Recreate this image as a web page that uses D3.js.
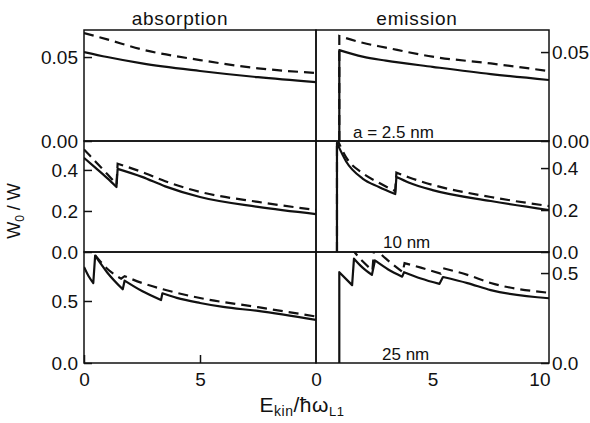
<!DOCTYPE html>
<html>
<head>
<meta charset="utf-8">
<script src="https://cdn.jsdelivr.net/npm/d3@7"></script>
<style>
  body { margin: 0; background: #fff; }
  svg { display: block; }
  text { font-family: "Liberation Sans", Arial, sans-serif; fill: #111; }
</style>
</head>
<body>
<svg width="590" height="423"></svg>
<script>
// values: [E_kin / hbar omega_L1, W0/W]
let absSmallSolid  = [[0,0.053],[1,0.050],[2.5,0.0462],[5,0.0417],[7.5,0.038],[10,0.0351]];
let absSmallDashed = [[0,0.0643],[1,0.0605],[2.5,0.0545],[5,0.0482],[7.5,0.0433],[10,0.0405]];
let emiSmallSolid  = [[1,0],[1,0.0511],[2,0.0474],[3,0.0452],[5,0.0417],[7.5,0.0376],[10,0.0343]];
let emiSmallDashed = [[1,0],[1,0.059],[2,0.0552],[3,0.0525],[5,0.0474],[7.5,0.0436],[10,0.0393]];

let absMidSolid  = [[0,0.459],[0.5,0.41],[1.0,0.36],[1.4,0.317],[1.45,0.405],[2.5,0.366],[3.5,0.32],[5,0.268],[7.5,0.22],[10,0.185]];
let absMidDashed = [[0,0.50],[0.5,0.44],[1.0,0.38],[1.4,0.33],[1.45,0.43],[2.5,0.39],[3.5,0.345],[5,0.293],[7.5,0.244],[10,0.205]];
let emiMidSolid  = [[0.9,0],[0.9,0.52],[1.3,0.43],[2,0.35],[2.7,0.31],[3.4,0.276],[3.45,0.357],[4,0.33],[5,0.295],[7.5,0.243],[10,0.2]];
let emiMidDashed = [[0.9,0],[0.9,0.54],[1.3,0.45],[2,0.376],[2.7,0.33],[3.4,0.29],[3.45,0.378],[4,0.355],[5,0.32],[7.5,0.262],[10,0.219]];

let absBigSolid  = [[0,0.775],[0.2,0.70],[0.4,0.645],[0.48,0.865],[1.0,0.73],[1.67,0.594],[1.75,0.664],[2.5,0.58],[3.32,0.508],[3.38,0.562],[4,0.525],[5,0.484],[6,0.452],[7.5,0.42],[10,0.347]];
let absBigDashed = [[0.48,0.87],[1.0,0.76],[1.6,0.68],[1.75,0.70],[2.5,0.645],[3.4,0.595],[5,0.524],[7.5,0.45],[10,0.375]];
let emiBigSolid  = [[1,0],[1,0.505],[1.55,0.433],[1.63,0.58],[2.0,0.53],[2.4,0.49],[2.53,0.57],[3.1,0.52],[3.7,0.48],[3.78,0.505],[4.5,0.47],[5.3,0.44],[5.45,0.478],[6.5,0.444],[7.5,0.405],[10,0.36]];
let emiBigDashed = [[1.5,0.64],[2.0,0.565],[2.42,0.515],[2.5,0.64],[3.0,0.58],[3.72,0.505],[3.8,0.555],[4.5,0.53],[5.35,0.497],[5.45,0.527],[6.5,0.49],[7.5,0.445],[10,0.39]];

let absTicksE = [0, 5];
let emiTicksE = [0, 5, 10];
let smallTicks = [0, 0.05];
let midTicks = [0, 0.2, 0.4];
let bigTicks = [0, 0.5];

let titles = ["absorption", "emission"];
let sizeLabels = ["a = 2.5 nm", "10 nm", "25 nm"];

let svg = d3.select("svg");

let colX = [[84, 316], [316, 549]];
let rowY = [[30, 141], [141, 252], [252, 363]];

let panels = [
    {col: 0, row: 0, top: 0.0661, ticks: smallTicks, fmt: ".2f", solid: absSmallSolid, dashed: absSmallDashed},
    {col: 1, row: 0, top: 0.0624, ticks: smallTicks, fmt: ".2f", solid: emiSmallSolid, dashed: emiSmallDashed},
    {col: 0, row: 1, top: 0.541,  ticks: midTicks,   fmt: ".1f", solid: absMidSolid,   dashed: absMidDashed},
    {col: 1, row: 1, top: 0.529,  ticks: midTicks,   fmt: ".1f", solid: emiMidSolid,   dashed: emiMidDashed},
    {col: 0, row: 2, top: 0.895,  ticks: bigTicks,   fmt: ".1f", solid: absBigSolid,   dashed: absBigDashed},
    {col: 1, row: 2, top: 0.617,  ticks: bigTicks,   fmt: ".1f", solid: emiBigSolid,   dashed: emiBigDashed}
];

// split a series where it jumps upward, so the jumps stay sharp
function segments(pts) {
    let segs = [[pts[0]]];
    for (let i = 1; i < pts.length; i++) {
        if (pts[i][1] > pts[i - 1][1]) segs.push([pts[i]]);
        else segs[segs.length - 1].push(pts[i]);
    }
    return segs;
}

panels.forEach(function(p, i) {
    let x = d3.scaleLinear().domain([0, 10]).range(colX[p.col]);
    let y = d3.scaleLinear().domain([0, p.top]).range([rowY[p.row][1], rowY[p.row][0]]);

    svg.append("clipPath").attr("id", "clip" + i)
        .append("rect")
        .attr("x", x(0)).attr("y", y(p.top))
        .attr("width", x(10) - x(0)).attr("height", y(0) - y(p.top));

    let line = d3.line()
        .x(function(d) { return x(d[0]); })
        .y(function(d) { return y(d[1]); })
        .curve(d3.curveMonotoneX);

    function pathOf(pts) {
        return segments(pts).map(function(s, k) {
            let d = s.length > 1 ? line(s) : "M" + x(s[0][0]) + "," + y(s[0][1]);
            return k ? d.replace(/^M/, "L") : d;
        }).join("");
    }

    let g = svg.append("g").attr("clip-path", "url(#clip" + i + ")");

    g.append("path")
        .attr("d", pathOf(p.solid))
        .attr("fill", "none")
        .attr("stroke", "#111")
        .attr("stroke-width", 2.2)
        .attr("stroke-linejoin", "round");

    g.append("path")
        .attr("d", pathOf(p.dashed))
        .attr("fill", "none")
        .attr("stroke", "#111")
        .attr("stroke-width", 2.2)
        .attr("stroke-dasharray", "10,6");

    svg.append("rect")
        .attr("x", x(0)).attr("y", y(p.top))
        .attr("width", x(10) - x(0)).attr("height", y(0) - y(p.top))
        .attr("fill", "none")
        .attr("stroke", "#111")
        .attr("stroke-width", 1.5);

    let yAxis = (p.col === 0 ? d3.axisLeft(y) : d3.axisRight(y))
        .tickValues(p.ticks)
        .tickFormat(d3.format(p.fmt))
        .tickSizeInner(-8)
        .tickSizeOuter(0)
        .tickPadding(p.col === 0 ? 6 : 3);

    let ay = svg.append("g")
        .attr("transform", "translate(" + (p.col === 0 ? x(0) : x(10)) + ",0)")
        .call(yAxis);
    ay.select(".domain").remove();
    ay.selectAll("line").attr("stroke", "#111").attr("stroke-width", 1.5);
    ay.selectAll("text").attr("font-size", 19).attr("font-family", null);

    if (p.row === 2) {
        let xAxis = d3.axisBottom(x)
            .tickValues(p.col === 0 ? absTicksE : emiTicksE)
            .tickFormat(d3.format("d"))
            .tickSizeInner(p.col === 0 ? -8 : 0)
            .tickSizeOuter(0)
            .tickPadding(10);
        let ax = svg.append("g")
            .attr("transform", "translate(0," + y(0) + ")")
            .call(xAxis);
        ax.select(".domain").remove();
        ax.selectAll("line").attr("stroke", "#111").attr("stroke-width", 1.5);
        ax.selectAll("text").attr("font-size", 19).attr("font-family", null);
        if (p.col === 1) {
            ax.selectAll("text").filter(function(d) { return d === 10; })
                .attr("text-anchor", "end").attr("dx", 1);
        }
    }
});

// column titles
svg.selectAll(".title")
    .data(titles)
    .enter().append("text")
    .attr("class", "title")
    .attr("x", function(d, i) { return i === 0 ? 180 : 417; })
    .attr("y", 25)
    .attr("text-anchor", "middle")
    .attr("font-size", 19)
    .attr("letter-spacing", 0.8)
    .text(function(d) { return d; });

// size labels in the emission column
let labelPos = [[353, 138], [383, 248], [382, 360]];
svg.selectAll(".size")
    .data(sizeLabels)
    .enter().append("text")
    .attr("class", "size")
    .attr("x", function(d, i) { return labelPos[i][0]; })
    .attr("y", function(d, i) { return labelPos[i][1]; })
    .attr("font-size", 17)
    .text(function(d) { return d; });

// y label  W0 / W
let yl = svg.append("text")
    .attr("transform", "translate(20,211) rotate(-90)")
    .attr("text-anchor", "middle")
    .attr("font-size", 18);
yl.append("tspan").text("W");
yl.append("tspan").attr("font-size", 12).attr("dy", 4).text("0");
yl.append("tspan").attr("dy", -4).text(" / W");

// x label  E_kin / hbar omega_L1
let xl = svg.append("text")
    .attr("x", 302)
    .attr("y", 412)
    .attr("text-anchor", "middle")
    .attr("font-size", 21)
    .attr("letter-spacing", 0.5);
xl.append("tspan").text("E");
xl.append("tspan").attr("font-size", 14).attr("dy", 4).text("kin");
xl.append("tspan").attr("dy", -4).text("/\u0127\u03c9");
xl.append("tspan").attr("font-size", 13).attr("dy", 4).text("L1");
</script>
</body>
</html>
